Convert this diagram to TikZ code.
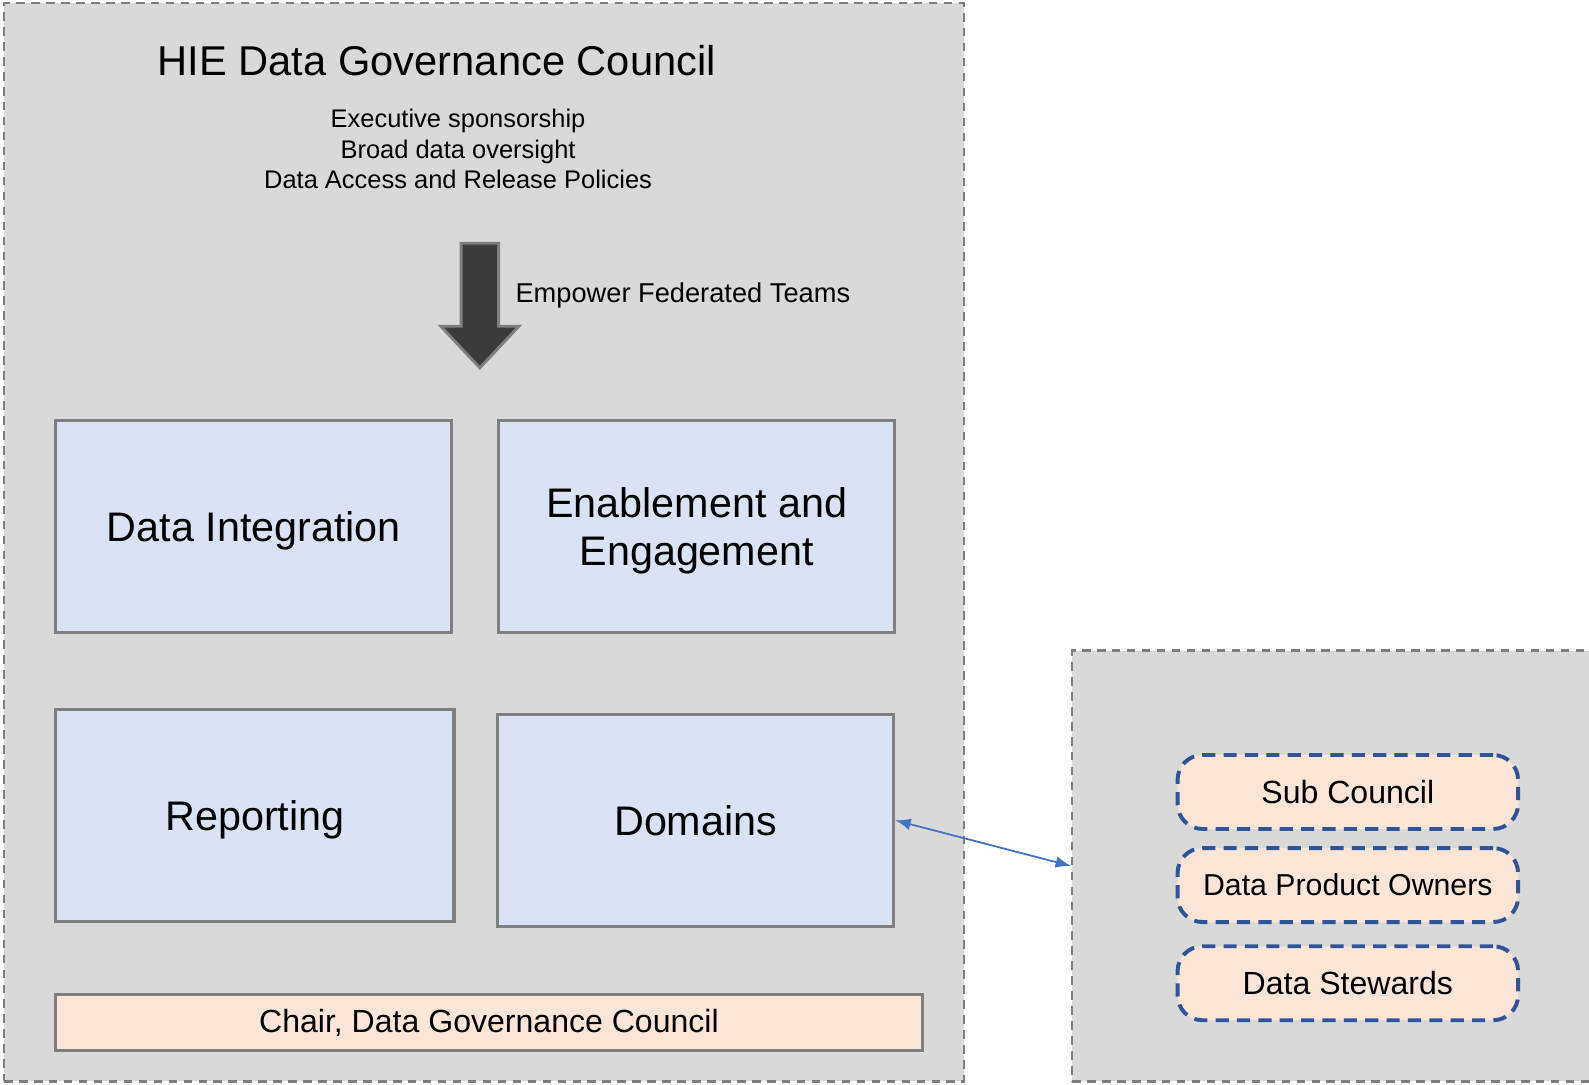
\documentclass[tikz,border=0pt]{standalone}
\usepackage{fontspec}
\setmainfont{Liberation Sans}
\usepackage{tikz}
\usetikzlibrary{positioning,arrows,calc}

\definecolor{panelgray}{HTML}{D9D9D9}
\definecolor{edgegray}{HTML}{7F7F7F}
\definecolor{teamblue}{HTML}{DAE3F3}
\definecolor{rolepeach}{HTML}{FBE5D6}
\definecolor{roleblue}{HTML}{2F5597}
\definecolor{linkblue}{HTML}{4472C4}
\definecolor{arrowdark}{HTML}{3B3B3B}

\begin{document}
\begin{tikzpicture}[
  panel/.style={draw=edgegray, fill=panelgray, line width=0.7pt,
    dash pattern=on 2.4pt off 1.8pt, inner sep=0pt},
  team/.style={draw=edgegray, fill=teamblue, line width=0.85pt,
    minimum width=3.91cm, minimum height=2.09cm, align=center, text depth=0pt,
    font=\fontsize{11.6}{13.7}\selectfont},
  role/.style={draw=roleblue, fill=rolepeach, line width=1.1pt,
    dash pattern=on 3.7pt off 2.3pt, rounded corners=7pt,
    minimum width=3.36cm, minimum height=0.73cm,
    font=\fontsize{9}{11}\selectfont},
  >=latex
]

  \useasboundingbox (0,0) rectangle (15.68,10.70);

  \node[panel, minimum width=9.47cm, minimum height=10.64cm] (council) at (4.775,5.35) {};
  \node[panel, minimum width=5.42cm, minimum height=4.25cm] (subbox) at (13.29,2.155) {};

  \node[] (title) at (4.31,10.10) {\fontsize{11.7}{14}\selectfont HIE Data Governance Council};
  \node[align=center, font=\fontsize{7.15}{8.5}\selectfont] (duties) at (4.52,9.23)
    {Executive sponsorship\\Broad data oversight\\Data Access and Release Policies};

  \fill[arrowdark, draw=edgegray, line width=0.8pt]
    (4.55,8.30) -- (4.92,8.30) -- (4.92,7.48) -- (5.12,7.48) -- (4.735,7.07)
    -- (4.35,7.48) -- (4.55,7.48) -- cycle;
  \node[anchor=west, inner sep=0pt, font=\fontsize{7.65}{9}\selectfont] (empower) at (5.08,7.78)
    {Empower Federated Teams};

  \node[team] (integration) at (2.505,5.505) {Data Integration};
  \node[team] (enablement) [right=0.43cm of integration] {Enablement and\\Engagement};
  \node[team, minimum width=3.93cm] (reporting) at (2.515,2.655) {Reporting};
  \node[team] (domains) at (6.865,2.605) {Domains};

  \node[draw=edgegray, fill=rolepeach, line width=0.85pt, minimum width=8.55cm,
    minimum height=0.56cm, font=\fontsize{9}{11}\selectfont] (chair) at (4.825,0.61)
    {Chair, Data Governance Council};

  \node[role] (subcouncil) at (13.30,2.885) {Sub Council};
  \node[role, font=\fontsize{8.5}{10}\selectfont] (owners) [below=0.15cm of subcouncil] {Data Product Owners};
  \node[role] (stewards) [below=0.20cm of owners] {Data Stewards};

  \draw[<->, linkblue, line width=0.5pt] (domains.east) -- (subbox.west);

\end{tikzpicture}
\end{document}
